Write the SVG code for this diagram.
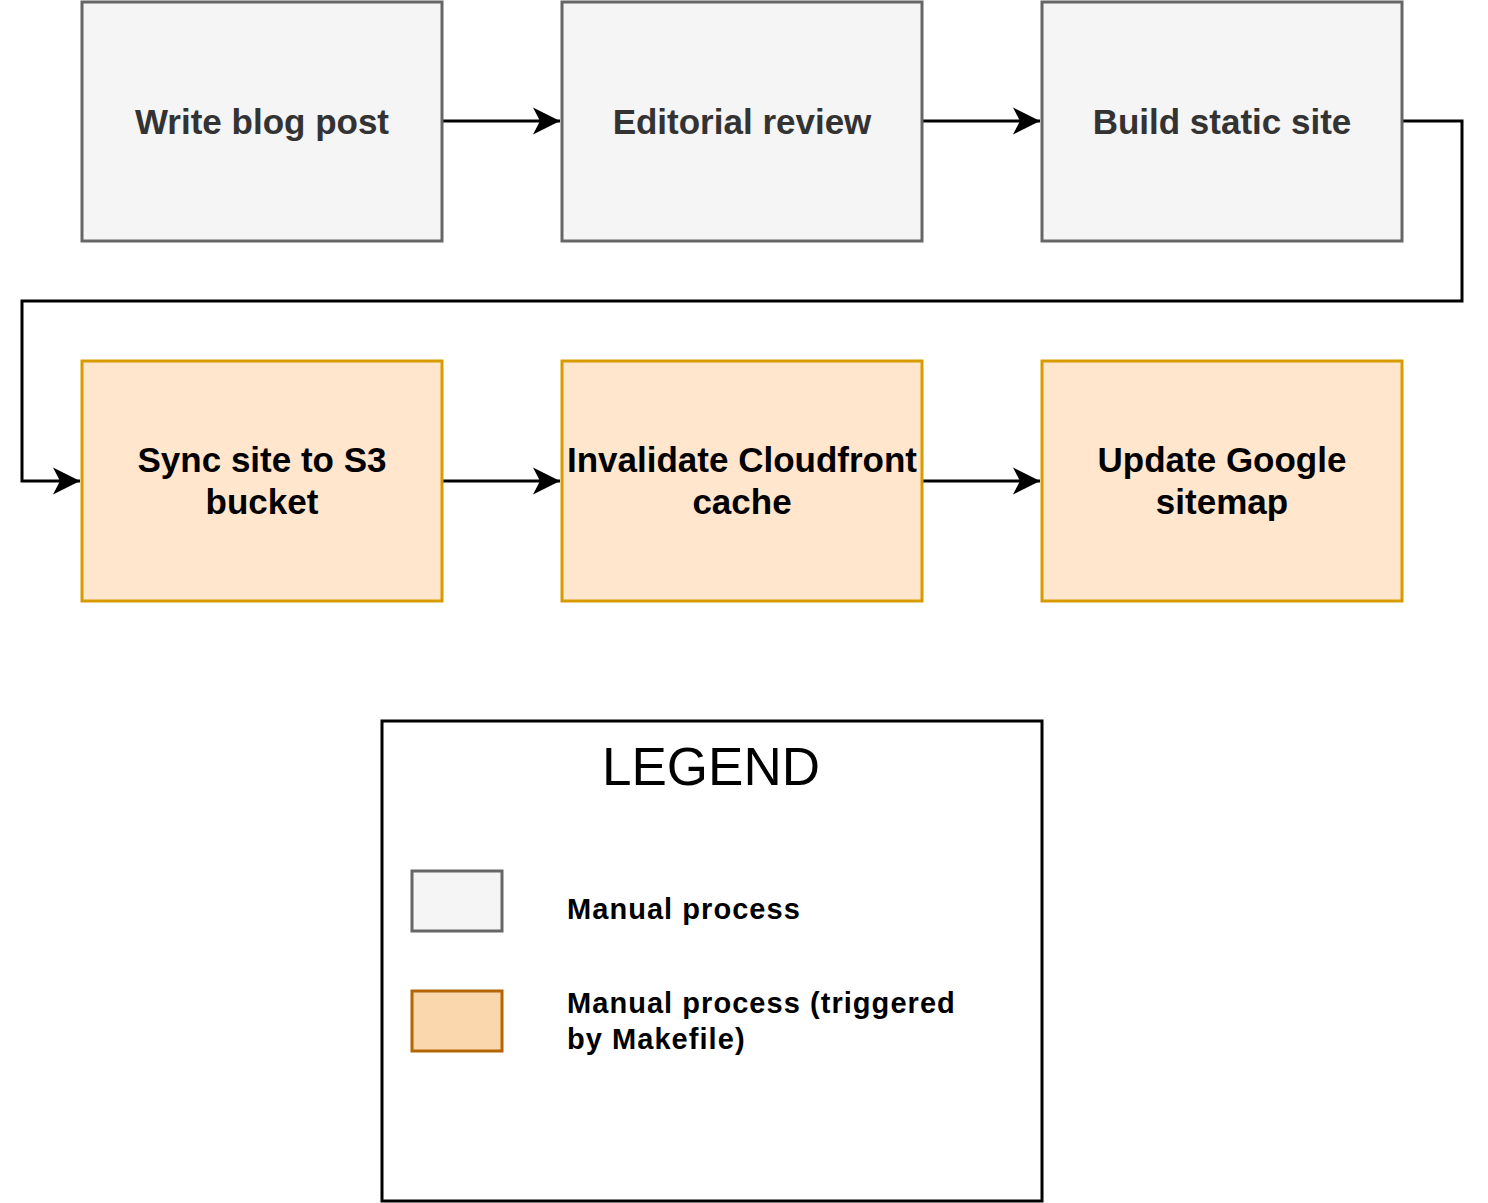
<svg xmlns="http://www.w3.org/2000/svg" width="1488" height="1203" viewBox="0 0 1488 1203">
<style>
.manual{fill:#f5f5f5;stroke:#666666;stroke-width:3}
.auto{fill:#ffe6cc;stroke:#d79b00;stroke-width:3}
.lbl{font-family:"Liberation Sans",Arial,sans-serif;font-weight:bold;font-size:35px;text-anchor:middle}
.gray{fill:#333333}
.blk{fill:#000000}
.edge{fill:none;stroke:#000000;stroke-width:3}
.leg{font-family:"Liberation Sans",Arial,sans-serif;font-weight:bold;font-size:29px;fill:#000000;letter-spacing:1.05px}
</style>
<defs>
<marker id="arr" markerUnits="userSpaceOnUse" markerWidth="30" markerHeight="30" viewBox="-28 -15 30 30" refX="0" refY="0" orient="auto">
<path d="M0,0 L-27,-13.5 L-20,0 L-27,13.5 Z" fill="#000000"/>
</marker>
</defs>
<rect width="1488" height="1203" fill="#ffffff"/>
<g id="connectors">
<path class="edge" d="M442,121 L560,121" marker-end="url(#arr)"/>
<path class="edge" d="M922,121 L1040,121" marker-end="url(#arr)"/>
<path class="edge" d="M1402,121 L1462,121 L1462,301 L22,301 L22,481 L80,481" marker-end="url(#arr)"/>
<path class="edge" d="M442,481 L560,481" marker-end="url(#arr)"/>
<path class="edge" d="M922,481 L1040,481" marker-end="url(#arr)"/>
</g>
<g id="write">
<rect class="manual" x="82" y="2" width="360" height="239"/>
<text class="lbl gray" x="262" y="134">Write blog post</text>
</g>
<g id="review">
<rect class="manual" x="562" y="2" width="360" height="239"/>
<text class="lbl gray" x="742" y="134">Editorial review</text>
</g>
<g id="build">
<rect class="manual" x="1042" y="2" width="360" height="239"/>
<text class="lbl gray" x="1222" y="134">Build static site</text>
</g>
<g id="sync">
<rect class="auto" x="82" y="361" width="360" height="240"/>
<text class="lbl blk" x="262" y="472">Sync site to S3</text>
<text class="lbl blk" x="262" y="514">bucket</text>
</g>
<g id="invalidate">
<rect class="auto" x="562" y="361" width="360" height="240"/>
<text class="lbl blk" x="742" y="472">Invalidate Cloudfront</text>
<text class="lbl blk" x="742" y="514">cache</text>
</g>
<g id="sitemap">
<rect class="auto" x="1042" y="361" width="360" height="240"/>
<text class="lbl blk" x="1222" y="472">Update Google</text>
<text class="lbl blk" x="1222" y="514">sitemap</text>
</g>
<g id="legend">
<rect x="382" y="721" width="660" height="480" fill="#ffffff" stroke="#000000" stroke-width="3"/>
<text x="711" y="785" font-family="'Liberation Sans',Arial,sans-serif" font-size="53" text-anchor="middle" fill="#000000">LEGEND</text>
<rect x="412" y="871" width="90" height="60" fill="#f5f5f5" stroke="#666666" stroke-width="3"/>
<text class="leg" x="567" y="919">Manual process</text>
<rect x="412" y="991" width="90" height="60" fill="#fad7ac" stroke="#b46504" stroke-width="3"/>
<text class="leg" x="567" y="1013">Manual process (triggered</text>
<text class="leg" x="567" y="1049">by Makefile)</text>
</g>
</svg>
